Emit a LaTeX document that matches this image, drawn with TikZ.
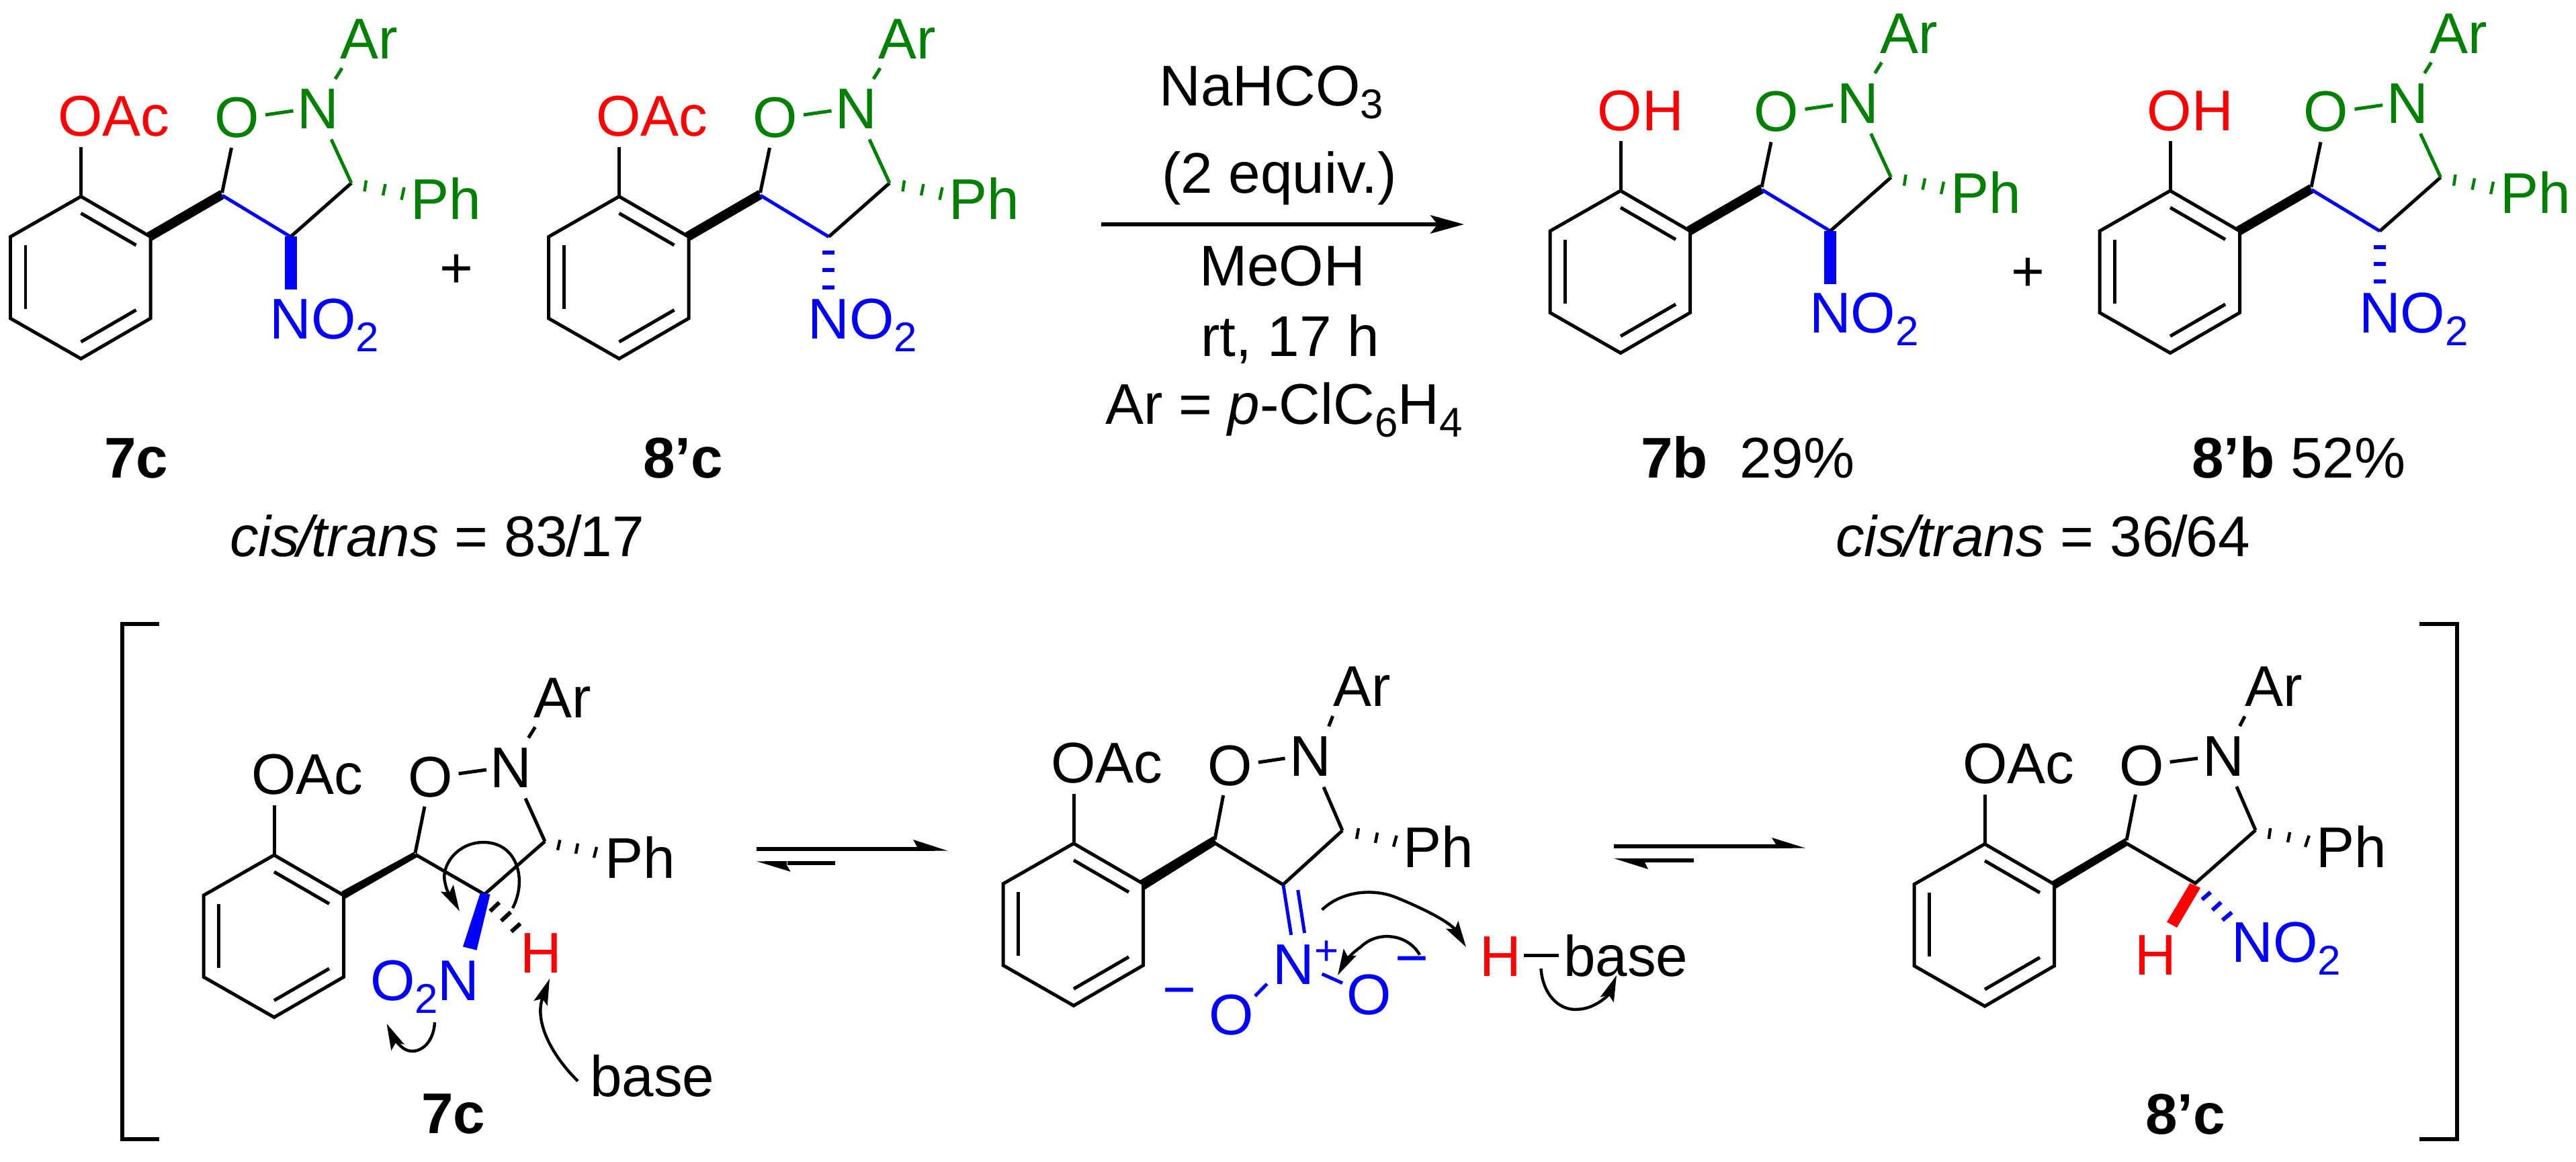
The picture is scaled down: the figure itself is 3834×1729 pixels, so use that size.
\documentclass[tikz,border=0pt]{standalone}
\usepackage{fontspec}
\setmainfont{Liberation Sans}
\usetikzlibrary{arrows.meta}
\definecolor{cred}{HTML}{FF0000}
\definecolor{cblue}{HTML}{0000FF}
\definecolor{cgreen}{HTML}{008000}
\newcommand{\chemf}{\fontsize{24.3}{29}\selectfont}
\newcommand{\sbs}[1]{\raisebox{-5.4pt}{\fontsize{17.6}{20}\selectfont #1}}
\tikzset{
  atom/.style={inner sep=0pt,outer sep=0pt,anchor=base west,font=\chemf},
  glyph/.style={inner sep=0pt,outer sep=0pt,anchor=center,font=\chemf},
  bond/.style={line width=1.42pt,line cap=butt,line join=miter},
  tick/.style={line width=1.25pt,line cap=butt},
  heavy/.style={line width=1.7pt,line cap=butt},
  curly/.style={line width=1.25pt,line cap=butt,-{Stealth[length=11pt,width=6pt,inset=2pt]}},
  rxn/.style={line width=1.7pt,line cap=butt,-{Stealth[length=14.2pt,width=7.7pt,inset=3pt]}},
}
% benzene ring with its substituent stub, hung from its top vertex
\newcommand{\ring}[3]{%
  \begin{scope}[shift={(#2,#3)}]
    \coordinate (#1a) at (0,0);
    \coordinate (#1b) at (103.5,60);
    \coordinate (#1c) at (103.5,181.5);
    \coordinate (#1d) at (0,241.5);
    \coordinate (#1e) at (-105,181.5);
    \coordinate (#1f) at (-105,60);
    \coordinate (#1s) at (0,-74);
    \draw[bond] (#1a)--(#1b)--(#1c)--(#1d)--(#1e)--(#1f)--cycle;
    \draw[bond] (#1s)--(#1a);
    \draw[bond] (0,25)--(82,72.5);
    \draw[bond] (-82.5,72.5)--(-82.5,167.5);
    \draw[bond] (0,216.5)--(82,169);
  \end{scope}}
% top-row molecule: #1 prefix, #2 #3 shift, #4 OAc/OH text, #5 1 = wedge, 0 = hashed
\newcommand{\topmol}[5]{%
  \begin{scope}[shift={(#2,#3)}]
    \ring{#1}{921.5}{292.5}
    \node[atom,text=cred] (#1sub) at (887,202.5) {#4};
    \node[atom,text=cgreen] (#1O) at (1120,204) {O};
    \node[atom,text=cgreen] (#1N) at (1243.5,191.5) {N};
    \node[atom,text=cgreen] (#1Ar) at (1307.5,87.5) {Ar};
    \node[atom,text=cgreen] (#1Ph) at (1412.5,326) {Ph};
    \node[atom,text=cblue] (#1NO) at (1202.5,504) {NO\sbs{2}};
    \coordinate (#1C5) at (1132,291);
    \coordinate (#1C4) at (1233.5,352.5);
    \coordinate (#1C3) at (1324,272.5);
    \fill (1020,346)--(1128.5,283)--(1134.5,296)--(1026,359)--cycle;
    \draw[bond] (1145.5,220)--(1131.5,287);
    \draw[bond,cblue] (#1C5)--(#1C4);
    \draw[bond] (#1C4)--(#1C3);
    \draw[bond,cgreen] (#1C3)--(1294,207.5);
    \draw[bond,cgreen] (1196,171)--(1237.5,165);
    \draw[bond,cgreen] (1300,117.5)--(1310,101.5);
    \draw[tick,cgreen] (1346,268.5)--(1343.5,285);
    \draw[tick,cgreen] (1374.5,274)--(1371,291);
    \draw[tick,cgreen] (1402.5,279)--(1398.5,297.5);
    \ifnum#5=1
      \fill[cblue] (1224.5,352)--(1242.5,352)--(1242.5,431)--(1224.5,431)--cycle;
    \else
      \draw[heavy,cblue] (1224,376)--(1242,376);
      \draw[heavy,cblue] (1224,401.5)--(1242,401.5);
      \draw[heavy,cblue] (1224,427.5)--(1242,427.5);
    \fi
  \end{scope}}
\begin{document}
\begin{tikzpicture}[x=0.01cm,y=-0.01cm]
\fill[white] (0,0) rectangle (3834,1729);
\useasboundingbox (0,0) rectangle (3834,1729);

% ---------- top row
\topmol{ma}{-801}{0}{OAc}{1}
\topmol{mb}{0}{0}{OAc}{0}
\topmol{mc}{1490.5}{-8.5}{OH}{1}
\topmol{md}{2308.5}{-8.5}{OH}{0}
\node[glyph] (plusa) at (679.5,404) {+};
\node[glyph] (plusb) at (3018,408.5) {+};

\node[atom] (l7c) at (155,711) {\textbf{7c}};
\node[atom] (l8c) at (957,711) {\textbf{8’c}};
\node[atom] (l7b) at (2442,711) {\textbf{7b}\hspace{13.5pt}29\%};
\node[atom] (l8b) at (3262,711) {\textbf{8’b} 52\%};
\node[atom] (cta) at (342,828) {\textit{cis\kern-1pt/\kern-1pt trans} = 83\kern-0.8pt/\kern-0.8pt17};
\node[atom] (ctb) at (2732,828) {\textit{cis\kern-1pt/\kern-1pt trans} = 36\kern-0.8pt/\kern-0.8pt64};

% ---------- reaction conditions
\node[atom] (c1) at (1725.5,157) {NaHCO\sbs{3}};
\node[atom] (c2) at (1729,287) {(2 equiv.)};
\node[atom] (c3) at (1785,425) {MeOH};
\node[atom] (c4) at (1787,530) {rt, 17 h};
\node[atom] (c5) at (1645,631) {Ar = \textit{p}-ClC\sbs{6}H\sbs{4}};
\coordinate (rs) at (1639,334);
\coordinate (re) at (2179,334);
\draw[rxn] (rs)--(re);

% ---------- brackets
\coordinate (bl1) at (237,929);
\coordinate (bl2) at (182,929);
\coordinate (bl3) at (182,1696);
\coordinate (bl4) at (237,1696);
\coordinate (br1) at (3601,929);
\coordinate (br2) at (3657,929);
\coordinate (br3) at (3657,1696);
\coordinate (br4) at (3601,1696);
\draw[line width=1.85pt,line join=miter] (bl1)--(bl2)--(bl3)--(bl4);
\draw[line width=1.85pt,line join=miter] (br1)--(br2)--(br3)--(br4);

% ---------- left intermediate
\ring{ia}{408}{1273}
\node[atom] (iaOAc) at (374,1182.5) {OAc};
\node[atom] (iaO) at (607,1186) {O};
\node[atom] (iaN) at (729.5,1172.5) {N};
\node[atom] (iaAr) at (794,1068) {Ar};
\node[atom] (iaPh) at (900.5,1307.6) {Ph};
\node[atom,text=cred] (iaH) at (774.5,1448.4) {H};
\node[atom,text=cblue] (iaNO) at (551,1489.5) {O\sbs{2}N};
\node[atom] (iaBase) at (878,1632) {base};
\node[atom] (l7c2) at (627,1687) {\textbf{7c}};
\coordinate (iaC5) at (618,1272);
\coordinate (iaC4) at (721,1331.5);
\coordinate (iaC3) at (811,1252.6);
\fill (508.5,1327)--(615.6,1268.7)--(621,1276)--(512,1339)--cycle;
\draw[bond] (632,1200.7)--(618,1270);
\draw[bond] (iaC5)--(iaC4)--(iaC3);
\draw[bond] (iaC3)--(782,1188.6);
\draw[bond] (682.6,1151.8)--(724,1146);
\draw[bond] (786.5,1098.5)--(796.5,1082.5);
\draw[tick] (833.4,1250.5)--(830,1265.6);
\draw[tick] (860,1255.7)--(857,1271);
\draw[tick] (888,1261)--(884,1277);
\fill[cblue] (715,1329)--(729.5,1331.5)--(709.5,1414.6)--(689,1409.4)--cycle;
\draw[heavy] (729.5,1356.6)--(743,1343.6);
\draw[heavy] (746,1371)--(760,1358);
\draw[heavy] (761,1387)--(774.4,1375);
\draw[curly] (763,1352) .. controls (785,1310) and (770,1254) .. (719.5,1254)
  .. controls (680,1254) and (655,1290) .. (662.6,1315)
  .. controls (665,1330) and (675,1340) .. (684,1356.6);
\draw[curly] (647,1522) .. controls (645,1560) and (615,1575) .. (597,1558)
  .. controls (590,1552) and (583,1540) .. (575.5,1524);
\draw[curly] (860,1609.5) .. controls (820,1570) and (795,1520) .. (818,1457);

% ---------- equilibrium 1
\coordinate (ea1) at (1126,1264);
\coordinate (ea2) at (1370,1264);
\coordinate (ea3) at (1243,1285);
\coordinate (ea4) at (1172,1285);
\draw[line width=1.7pt] (ea1)--(ea2);
\fill (1410,1266.5)--(1359,1250)--(1365,1261)--(1365,1267)--cycle;
\draw[line width=1.7pt] (ea3)--(ea4);
\fill (1126,1282.3)--(1176.7,1297.7)--(1171,1288)--(1171,1282)--cycle;

% ---------- middle intermediate
\ring{ib}{1598}{1255.7}
\node[atom] (ibOAc) at (1564,1165.5) {OAc};
\node[atom] (ibO) at (1797.6,1169.5) {O};
\node[atom] (ibN) at (1919.5,1155) {N};
\node[atom] (ibAr) at (1984,1051.5) {Ar};
\node[atom] (ibPh) at (2088,1291) {Ph};
\node[atom,text=cblue] (ibNp) at (1894.5,1465) {N};
\node[glyph,text=cblue,font=\fontsize{17.6}{20}\selectfont] (ibPlus) at (1975,1419) {+};
\node[atom,text=cblue] (ibO1) at (1799,1540) {O};
\node[atom,text=cblue] (ibO2) at (2004,1510) {O};
\node[glyph,text=cblue] (ibM1) at (1755,1486.6) {−};
\node[glyph,text=cblue] (ibM2) at (2101,1439.5) {−};
\node[atom,text=cred] (ibH) at (2202,1453) {H};
\node[atom] (ibBase) at (2327,1453) {base};
\coordinate (ibC5) at (1809,1255.7);
\coordinate (ibC4) at (1909.5,1317);
\coordinate (ibC3) at (1998,1236.5);
\fill (1697,1310.4)--(1805.5,1245)--(1811.6,1256.8)--(1703,1325)--cycle;
\draw[bond] (1820.7,1184)--(1808,1250);
\draw[bond] (ibC5)--(ibC4)--(ibC3);
\draw[bond] (ibC3)--(1970,1171.8);
\draw[bond] (1872.8,1135)--(1912.5,1129);
\draw[bond] (1977.6,1081.4)--(1983.7,1066);
\draw[tick] (2022,1233)--(2019,1249);
\draw[tick] (2050,1239.6)--(2047,1255);
\draw[tick] (2078.6,1244)--(2074,1260.6);
\draw[bond,cblue] (1910,1318)--(1921.7,1392);
\draw[bond,cblue] (1931.7,1325)--(1941.6,1389);
\draw[bond,cblue] (1885.8,1464.8)--(1868,1482.8);
\draw[bond,cblue] (1967.6,1450)--(1998,1463.6);
\draw[bond] (2268,1422)--(2320,1422);
\draw[curly] (1967.6,1354.5) .. controls (1995,1328) and (2040,1322) .. (2075,1335)
  .. controls (2125,1355) and (2160,1375) .. (2182,1410);
\draw[curly] (2113,1421.5) .. controls (2095,1390) and (2050,1385) .. (2025,1410)
  .. controls (2010,1420) and (2000,1435) .. (1991,1452);
\draw[curly] (2293.5,1442) .. controls (2296,1480) and (2320,1505) .. (2348,1502.7)
  .. controls (2375,1502) and (2395,1480) .. (2406,1452);

% ---------- equilibrium 2
\coordinate (eb1) at (2402,1260);
\coordinate (eb2) at (2645,1260);
\coordinate (eb3) at (2520.7,1281);
\coordinate (eb4) at (2448,1281);
\draw[line width=1.7pt] (eb1)--(eb2);
\fill (2686.6,1262.5)--(2637,1247)--(2643,1257)--(2643,1263)--cycle;
\draw[line width=1.7pt] (eb3)--(eb4);
\fill (2402,1278)--(2453,1294)--(2448,1284)--(2448,1278)--cycle;

% ---------- right intermediate
\ring{ic}{2954}{1256.5}
\node[atom] (icOAc) at (2921,1166.5) {OAc};
\node[atom] (icO) at (3154.8,1169) {O};
\node[atom] (icN) at (3278,1155) {N};
\node[atom] (icAr) at (3341.4,1051.7) {Ar};
\node[atom] (icPh) at (3447.5,1291) {Ph};
\node[atom,text=cred] (icH) at (3177.5,1451) {H};
\node[atom,text=cblue] (icNO) at (3321.5,1432) {NO\sbs{2}};
\node[atom] (l8c2) at (3193,1688.7) {\textbf{8’c}};
\coordinate (icC5) at (3165,1255.7);
\coordinate (icC4) at (3267.4,1315);
\coordinate (icC3) at (3357,1236);
\fill (3054,1312)--(3162.7,1248)--(3168,1258)--(3058.8,1323.6)--cycle;
\draw[bond] (3178.4,1183)--(3165,1251);
\draw[bond] (icC5)--(icC4)--(icC3);
\draw[bond] (icC3)--(3328.8,1171);
\draw[bond] (3229.6,1134.4)--(3271,1129);
\draw[bond] (3333.5,1081)--(3341,1066.5);
\draw[tick] (3379,1233)--(3376.8,1249);
\draw[tick] (3408,1239)--(3405,1254);
\draw[tick] (3436.6,1244)--(3431,1261);
\fill[cred] (3259.3,1315)--(3275,1321.7)--(3240,1381)--(3225,1372.7)--cycle;
\draw[heavy,cblue] (3277.3,1339.3)--(3290,1328.3);
\draw[heavy,cblue] (3292.7,1355)--(3305.7,1343.3);
\draw[heavy,cblue] (3307.7,1370)--(3321.7,1358.3);
\end{tikzpicture}
\end{document}
